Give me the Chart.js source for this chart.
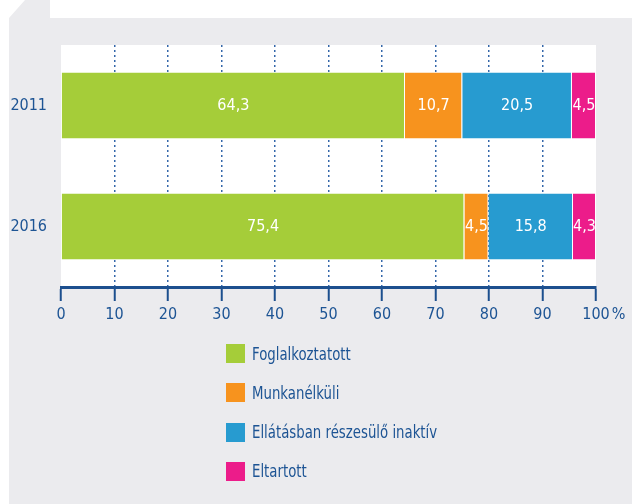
<!DOCTYPE html>
<html lang="hu">
<head>
<meta charset="UTF-8">
<title>Népesség gazdasági aktivitás szerint</title>
<script src="https://cdn.jsdelivr.net/npm/chart.js"></script>
<style>
  body { margin: 0; background: #fff; }
  #wrap { position: relative; width: 632px; height: 504px; overflow: hidden;
          font-family: 'Liberation Sans Narrow', 'DejaVu Sans Condensed', sans-serif; }
  .panel { position: absolute; left: 0; top: 0; width: 632px; height: 504px; background: #ebebee;
           clip-path: polygon(25px 0, 632px 0, 632px 504px, 9px 504px, 9px 18px); }
  .titlebox { position: absolute; left: 50px; top: 0; width: 582px; height: 18px; background: #fff; }
  canvas { position: absolute; left: 0; top: 0; }
  #legend { position: absolute; left: 226px; top: 344px; margin: 0; padding: 0; list-style: none; }
  #legend li { height: 19px; margin-bottom: 20.3px; display: flex; align-items: center;
               color: #1d5494; font-size: 17px; white-space: nowrap; }
  #legend span { display: inline-block; width: 19px; height: 19px; margin-right: 7px; }
  #legend em { font-style: normal; display: inline-block; transform: scaleX(0.87); transform-origin: left center; }
</style>
</head>
<body>
<div id="wrap">
  <div class="panel"></div>
  <div class="titlebox"></div>
  <canvas id="chart" width="632" height="504"></canvas>
  <ul id="legend"></ul>
</div>

<script>
  // adatok
  const years = ['2011', '2016'];
  const seriesNames = ['Foglalkoztatott', 'Munkanélküli', 'Ellátásban részesülő inaktív', 'Eltartott'];
  const foglalkoztatott = [64.3, 75.4];
  const munkanelkuli = [10.7, 4.5];
  const ellatasban = [20.5, 15.8];
  const eltartott = [4.5, 4.3];
  const colors = ['#a5cd39', '#f7931e', '#279bd0', '#ec1c8a'];

  const blue = '#1d5494';
  const fontFamily = "'Liberation Sans Narrow', 'DejaVu Sans Condensed', sans-serif";

  // legenda
  const legend = document.getElementById('legend');
  seriesNames.forEach((name, i) => {
    const li = document.createElement('li');
    const box = document.createElement('span');
    box.style.background = colors[i];
    const txt = document.createElement('em');
    txt.textContent = name;
    li.appendChild(box);
    li.appendChild(txt);
    legend.appendChild(li);
  });

  // fehér rajzterület
  const areaBg = {
    id: 'areaBg',
    beforeDraw(chart) {
      const a = chart.chartArea, ctx = chart.ctx;
      ctx.save();
      ctx.fillStyle = '#fff';
      ctx.fillRect(a.left, a.top, a.right - a.left, a.bottom - a.top);
      ctx.restore();
    }
  };

  // értékek a sávokban
  const barLabels = {
    id: 'barLabels',
    afterDatasetsDraw(chart) {
      const ctx = chart.ctx;
      ctx.save();
      ctx.font = '16px ' + fontFamily;
      ctx.fillStyle = '#fff';
      ctx.textAlign = 'center';
      ctx.textBaseline = 'middle';
      chart.data.datasets.forEach((ds, i) => {
        chart.getDatasetMeta(i).data.forEach((bar, j) => {
          const p = bar.getCenterPoint();
          ctx.fillText(ds.data[j].toFixed(1).replace('.', ','), p.x, p.y);
        });
      });
      ctx.restore();
    }
  };

  // "%" a 100 után
  const percentSign = {
    id: 'percentSign',
    afterDraw(chart) {
      const xs = chart.scales.x, ctx = chart.ctx;
      const items = xs.getLabelItems();
      const last = items[items.length - 1];
      const [x, y] = last.options.translation;
      ctx.save();
      ctx.font = '16px ' + fontFamily;
      ctx.fillStyle = blue;
      ctx.textAlign = 'left';
      ctx.textBaseline = last.options.textBaseline;
      const w = ctx.measureText('100').width;
      ctx.fillText('%', x + w / 2 + 2, y + last.textOffset);
      ctx.restore();
    }
  };

  const datasets = [foglalkoztatott, munkanelkuli, ellatasban, eltartott].map((d, i) => ({
    label: seriesNames[i],
    data: d,
    backgroundColor: colors[i],
    borderColor: 'rgba(255,255,255,0.55)',
    borderWidth: 1,
    barPercentage: 0.556,
    categoryPercentage: 1
  }));

  new Chart(document.getElementById('chart'), {
    type: 'bar',
    data: { labels: years, datasets: datasets },
    plugins: [areaBg, barLabels, percentSign],
    options: {
      indexAxis: 'y',
      responsive: false,
      animation: false,
      layout: { padding: { left: 0, right: 36, top: 45, bottom: 177 } },
      plugins: { legend: { display: false }, tooltip: { enabled: false } },
      scales: {
        x: {
          stacked: true,
          min: 0,
          max: 100,
          afterFit(scale) { scale.height = 40; },
          ticks: { stepSize: 10, color: blue, padding: 4, maxRotation: 0,
                   font: { family: fontFamily, size: 16 } },
          grid: {
            color: ctx => (ctx.tick && ctx.tick.value > 0 && ctx.tick.value < 100) ? '#3467aa' : 'rgba(0,0,0,0)',
            lineWidth: 1.5,
            tickColor: '#1c4f8e',
            tickWidth: 2,
            tickLength: 14
          },
          border: { color: '#1c4f8e', width: 3, dash: [2, 3] }
        },
        y: {
          stacked: true,
          afterFit(scale) { scale.width = 61; },
          ticks: { color: blue, padding: 14, font: { family: fontFamily, size: 16 } },
          grid: { display: false, drawTicks: false },
          border: { display: false }
        }
      }
    }
  });
</script>
</body>
</html>
